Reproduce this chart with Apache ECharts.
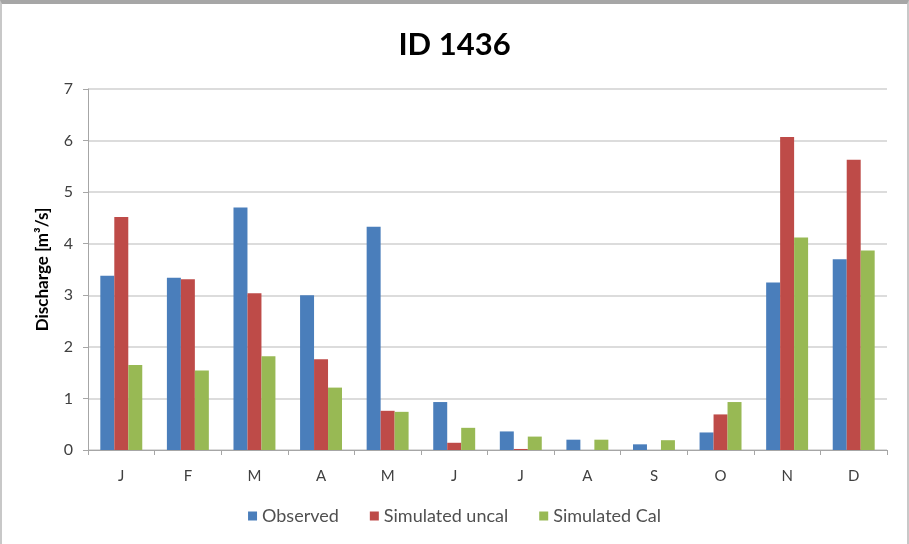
<!DOCTYPE html>
<html>
<head>
<meta charset="utf-8">
<script src="https://cdn.jsdelivr.net/npm/echarts@6/dist/echarts.min.js"></script>
<style>
  html, body { margin: 0; padding: 0; background: #ffffff; }
  #frame { position: absolute; left: 0; top: 0; width: 909px; height: 544px; box-sizing: border-box;
           border-top: 4px solid #a6a6a6; border-left: 2px solid #c8c8c8; border-right: 2px solid #c8c8c8; }
  #chart { position: absolute; left: 0; top: 0; width: 909px; height: 544px; }
</style>
</head>
<body>
<div id="frame"></div>
<div id="chart"></div>
<script>
// Monthly discharge, m³/s
const months = ['J', 'F', 'M', 'A', 'M', 'J', 'J', 'A', 'S', 'O', 'N', 'D'];
const observed = [3.38, 3.34, 4.70, 3.00, 4.33, 0.93, 0.36, 0.20, 0.11, 0.34, 3.25, 3.70];
const simUncal = [4.52, 3.31, 3.04, 1.76, 0.76, 0.14, 0.02, 0.00, 0.00, 0.69, 6.07, 5.63];
const simCal   = [1.65, 1.54, 1.82, 1.21, 0.74, 0.43, 0.26, 0.20, 0.19, 0.93, 4.12, 3.87];
const yTicks = [0, 1, 2, 3, 4, 5, 6, 7];

const font = 'Lato, "Open Sans", sans-serif';
const chart = echarts.init(document.getElementById('chart'), null, { renderer: 'canvas' });

function barSeries(name, data, color) {
  return {
    name: name, type: 'bar', data: data,
    barGap: '0%', barCategoryGap: '37%',
    itemStyle: { color: color },
    emphasis: { disabled: true }
  };
}

chart.setOption({
  animation: false,
  backgroundColor: 'transparent',
  title: {
    text: 'ID 1436', left: 'center', top: 24,
    textStyle: { fontFamily: font, fontWeight: 'bold', fontSize: 31, color: '#000000' }
  },
  legend: {
    bottom: 14, left: 'center',
    itemWidth: 9, itemHeight: 9, itemGap: 31,
    icon: 'rect',
    textStyle: { fontFamily: font, fontSize: 18, color: '#505050' },
    data: ['Observed', 'Simulated uncal', 'Simulated Cal']
  },
  grid: { left: 88, right: 22, top: 89, bottom: 94, containLabel: false },
  xAxis: {
    type: 'category', data: months,
    axisLine: { lineStyle: { color: '#a6a6a6', width: 1 } },
    axisTick: { show: true, length: 5, lineStyle: { color: '#a6a6a6' } },
    axisLabel: { fontFamily: font, fontSize: 15, color: '#404040', margin: 19 }
  },
  yAxis: {
    type: 'value', min: 0, max: 7, interval: 1,
    name: 'Discharge [m³/s]', nameLocation: 'middle', nameGap: 37, nameRotate: 90,
    nameTextStyle: { fontFamily: font, fontWeight: 'bold', fontSize: 17, color: '#000000' },
    axisLine: { show: true, lineStyle: { color: '#a6a6a6' } },
    axisTick: { show: true, length: 5, lineStyle: { color: '#a6a6a6' } },
    axisLabel: {
      fontFamily: font, fontSize: 16, color: '#404040', margin: 15,
      formatter: v => (yTicks.indexOf(v) >= 0 ? String(v) : '')
    },
    splitLine: { lineStyle: { color: '#d0d0d0', width: 1.5 } }
  },
  series: [
    barSeries('Observed', observed, '#4a7ebb'),
    barSeries('Simulated uncal', simUncal, '#be4b48'),
    barSeries('Simulated Cal', simCal, '#98b954')
  ]
});
</script>
</body>
</html>
